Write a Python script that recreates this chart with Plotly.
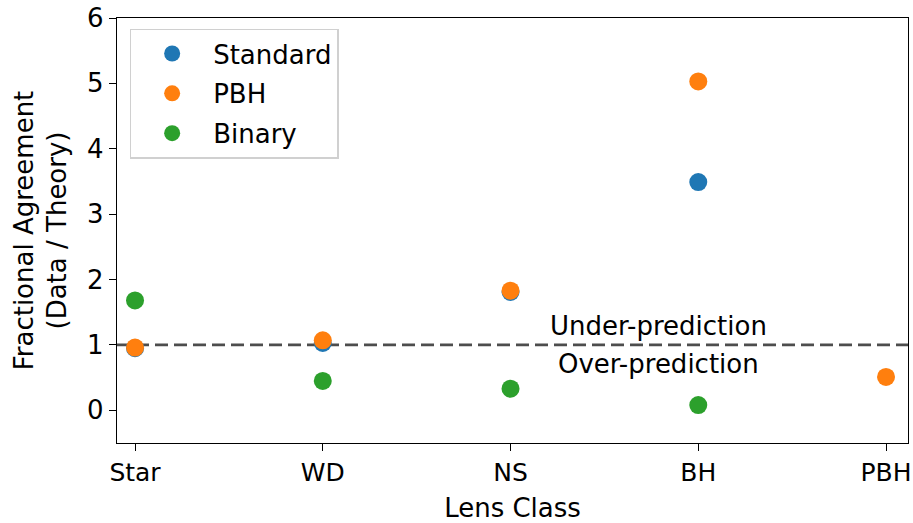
import plotly.graph_objects as go

# Lens classes along the x axis
lens_classes = ["Star", "WD", "NS", "BH", "PBH"]

# Fractional agreement (data / theory) for each model
standard_classes = ["Star", "WD", "NS", "BH"]
standard_vals = [0.95, 1.03, 1.81, 3.49]

pbh_classes = ["Star", "WD", "NS", "BH", "PBH"]
pbh_vals = [0.96, 1.07, 1.83, 5.03, 0.51]

binary_classes = ["Star", "WD", "NS", "BH"]
binary_vals = [1.68, 0.45, 0.33, 0.08]

y_ticks = [0, 1, 2, 3, 4, 5, 6]
reference_level = 1.0

FONT = "DejaVu Sans"
FS = 26

fig = go.Figure()

series = [
    ("Standard", standard_classes, standard_vals, "#1f77b4"),
    ("PBH", pbh_classes, pbh_vals, "#ff7f0e"),
    ("Binary", binary_classes, binary_vals, "#2ca02c"),
]
for name, xs, ys, color in series:
    fig.add_trace(go.Scatter(
        x=xs, y=ys, mode="markers", name=name, legendgroup=name,
        marker=dict(size=18, color=color, line=dict(width=0)),
    ))

# Agreement line at data / theory = 1
fig.add_hline(y=reference_level, line=dict(color="#4d4d4d", width=2.8, dash="13px,6px"),
              layer="below")

fig.add_annotation(x=2.79, y=reference_level + 0.03, text="Under-prediction",
                   showarrow=False, yanchor="bottom", xanchor="center",
                   font=dict(family=FONT, size=FS, color="black"))
fig.add_annotation(x=2.79, y=reference_level - 0.03, text="Over-prediction",
                   showarrow=False, yanchor="top", xanchor="center",
                   font=dict(family=FONT, size=FS, color="black"))

fig.update_layout(
    width=913, height=523,
    margin=dict(l=117, r=5, t=18, b=80),
    paper_bgcolor="white", plot_bgcolor="white",
    font=dict(family=FONT, size=FS, color="black"),
    showlegend=True,
    legend=dict(
        x=0.016, y=0.975, xanchor="left", yanchor="top",
        bgcolor="white", bordercolor="#d0d0d0", borderwidth=1.5,
        font=dict(family=FONT, size=FS, color="black"),
        tracegroupgap=3, itemwidth=72,
    ),
    xaxis=dict(
        type="category", categoryorder="array", categoryarray=lens_classes,
        range=[-0.096, 4.117], automargin=False,
        title=dict(text="Lens Class", standoff=17, font=dict(size=FS)),
        tickfont=dict(size=25),
        showline=True, mirror=True, linecolor="black", linewidth=1.4,
        ticks="outside", ticklen=7, tickwidth=1.4, tickcolor="black",
        showgrid=False, zeroline=False,
    ),
    yaxis=dict(
        range=[-0.5, 6], tickvals=y_ticks, automargin=False,
        title=dict(text="Fractional Agreement<br>(Data / Theory)", standoff=12,
                   font=dict(size=FS)),
        showline=True, mirror=True, linecolor="black", linewidth=1.4,
        ticks="outside", ticklen=7, tickwidth=1.4, tickcolor="black",
        showgrid=False, zeroline=False,
    ),
)

fig.write_html("out.html")
